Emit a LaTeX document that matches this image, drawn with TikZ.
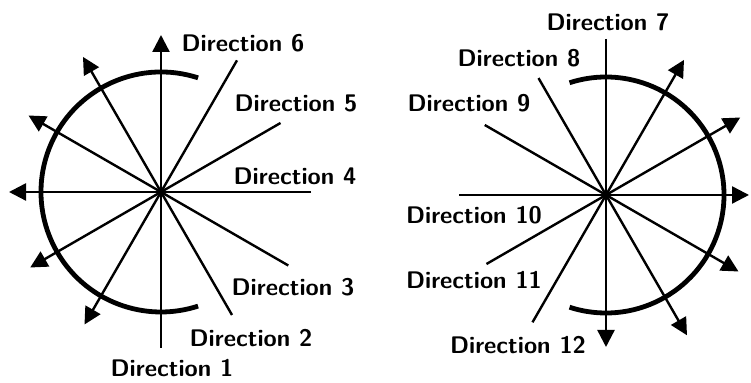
\documentclass[tikz,border=0pt]{standalone}
\usepackage{tikz}
\usetikzlibrary{arrows.meta}
\tikzset{
  spoke/.style={line width=1.2pt},
  spokearrow/.style={spoke,-{Triangle[length=8.5pt,width=8.5pt]}},
  rim/.style={line width=2.4pt},
  dirlabel/.style={font=\sffamily\bfseries\fontsize{12}{14}\selectfont,inner sep=0pt}
}
\begin{document}
\begin{tikzpicture}[x=0.5pt,y=0.5pt]
\useasboundingbox (0,0) rectangle (751,383);
% left wheel, directions 1 to 6
\coordinate (L0) at (161,191);
\foreach \i/\pl/\al in {1/156/157,2/142/156,3/147/153,4/150/152,5/138/151,6/152/153}{
  \coordinate (L\i-p) at ([shift={(L0)}]240+30*\i:\pl);
  \coordinate (L\i-a) at ([shift={(L0)}]60+30*\i:\al);
  \draw[spokearrow] (L\i-p) -- (L\i-a);
}
\draw[rim] ([shift={(L0)}]72:120) arc[start angle=72,end angle=288,radius=120];
\node[dirlabel] (d1) at (172,15) {Direction 1};
\node[dirlabel] (d2) at (251,45) {Direction 2};
\node[dirlabel] (d3) at (293,96) {Direction 3};
\node[dirlabel] (d4) at (295,207) {Direction 4};
\node[dirlabel] (d5) at (296,280) {Direction 5};
\node[dirlabel] (d6) at (243,340) {Direction 6};
% right wheel, directions 7 to 12
\coordinate (R0) at (606,188);
\foreach \i/\pl/\al in {7/156/152,8/135/162,9/140/153,10/147/143,11/138/155,12/147/156}{
  \coordinate (R\i-p) at ([shift={(R0)}]30*\i-120:\pl);
  \coordinate (R\i-a) at ([shift={(R0)}]30*\i+60:\al);
  \draw[spokearrow] (R\i-p) -- (R\i-a);
}
\draw[rim] ([shift={(R0)}]-108:118) arc[start angle=-108,end angle=108,radius=118];
\node[dirlabel] (d7) at (608,361) {Direction 7};
\node[dirlabel] (d8) at (519,325) {Direction 8};
\node[dirlabel] (d9) at (469,280) {Direction 9};
\node[dirlabel] (d10) at (474,168) {Direction 10};
\node[dirlabel] (d11) at (474,103) {Direction 11};
\node[dirlabel] (d12) at (518,38) {Direction 12};
\end{tikzpicture}
\end{document}
